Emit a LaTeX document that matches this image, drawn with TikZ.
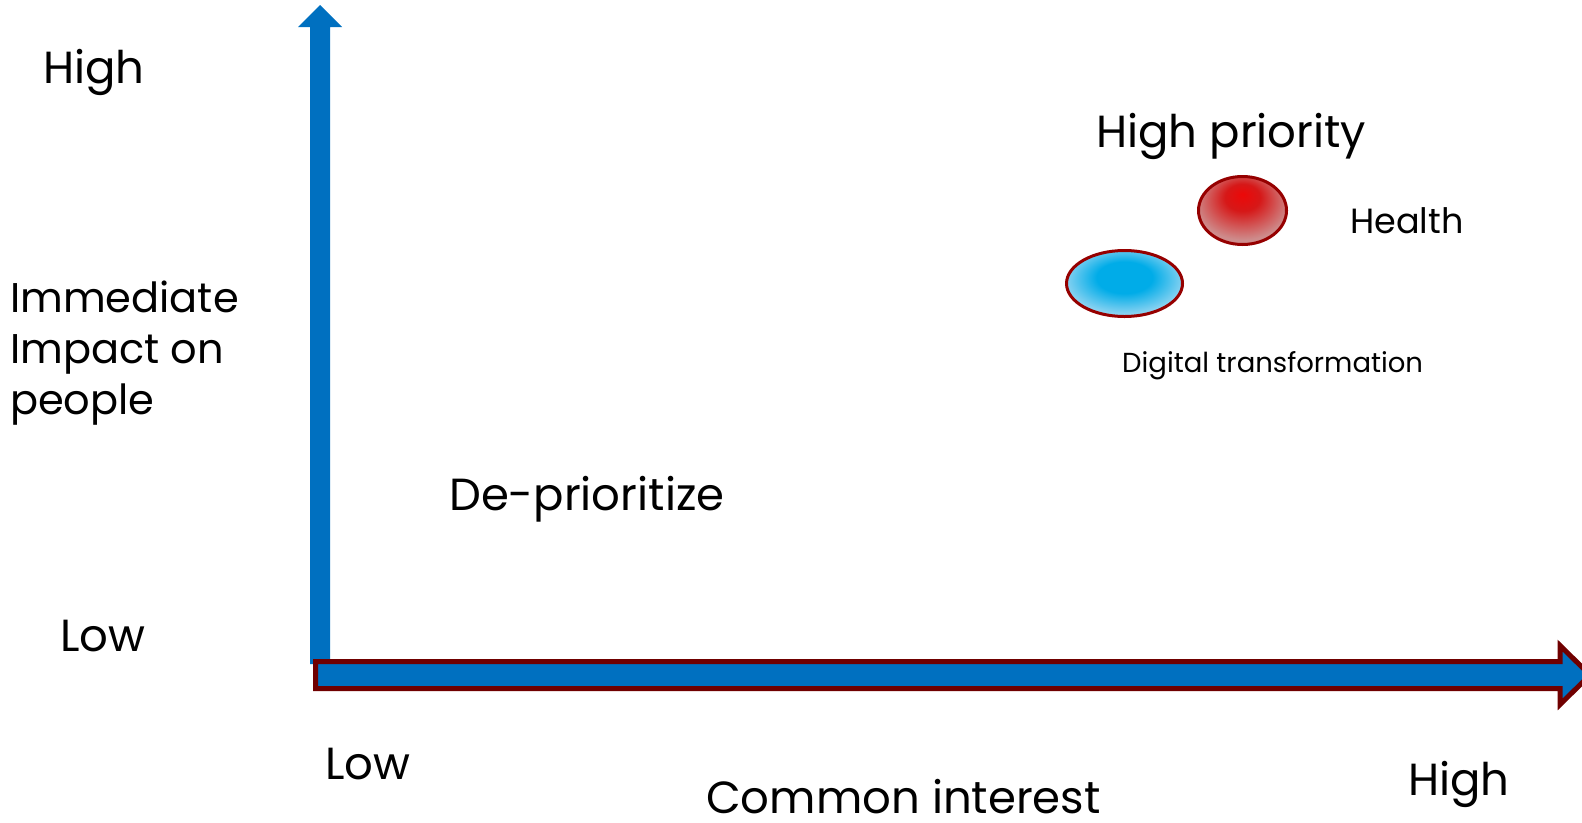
\documentclass[tikz,border=0pt]{standalone}
\usepackage{fontspec}
\setmainfont{Poppins}
\definecolor{axisblue}{RGB}{0,112,192}
\definecolor{axisred}{RGB}{112,0,0}
\definecolor{rimred}{RGB}{150,0,0}
\definecolor{bluecore}{RGB}{0,172,232}
\definecolor{blueedge}{RGB}{150,214,242}
\definecolor{redcore}{RGB}{236,8,8}
\definecolor{redmid}{RGB}{214,24,24}
\definecolor{rededge}{RGB}{206,140,140}
\pgfdeclareradialshading{blueblob}{\pgfpoint{0bp}{6bp}}{%
  color(0bp)=(bluecore); color(12bp)=(bluecore); color(27bp)=(blueedge); color(50bp)=(blueedge)}
\pgfdeclareradialshading{redblob}{\pgfpoint{0bp}{12bp}}{%
  color(0bp)=(redcore); color(10bp)=(redmid); color(27bp)=(rededge); color(50bp)=(rededge)}
\begin{document}
\begin{tikzpicture}[x=1pt,y=-1pt,
  lbl/.style={anchor=base west, inner sep=0pt, text=black},
  big/.style={lbl, font=\fontsize{45}{45}\selectfont},
  blob/.style={draw=rimred, line width=3pt}]
\useasboundingbox (0,0) rectangle (1582,822);
\clip (0,0) rectangle (1582,822);

% vertical axis: plain blue block arrow
\fill[axisblue] (310,664) -- (310,27) -- (298,27) -- (320,5) -- (342,27)
  -- (330,27) -- (330,664) -- cycle;

% horizontal axis: blue block arrow with dark red rim
\draw[draw=axisred, line width=5pt, fill=axisblue]
  (315.5,661.5) -- (1560,661.5) -- (1560,645.5) -- (1590,675)
  -- (1560,704.5) -- (1560,688.5) -- (315.5,688.5) -- cycle;

% topic bubbles
\path[blob, shading=blueblob] (1124.5,283.5) ellipse [x radius=58pt, y radius=33pt];
\path[blob, shading=redblob] (1242.5,210.5) ellipse [x radius=44pt, y radius=34pt];

% axis labels
\node[big] (yhigh) at (43,83) {High};
\node[big] (ylow) at (60,651) {Low};
\node[lbl, font=\fontsize{41.5}{51}\selectfont, align=left] (ytitle) at (10,414)
  {Immediate\\Impact on\\people};
\node[big] (xlow) at (325,779) {Low};
\node[big] (xhigh) at (1408,795) {High};
\node[big, text depth=0pt] (xtitle) at (706,813) {Common interest};

% quadrant labels
\node[big] (depri) at (449,510) {De-prioritize};
\node[big] (hipri) at (1096,147) {High priority};

% bubble labels
\node[lbl, font=\fontsize{35}{35}\selectfont] (health) at (1350,233) {Health};
\node[lbl, font=\fontsize{27.5}{27.5}\selectfont] (digital) at (1122,372) {Digital transformation};
\end{tikzpicture}
\end{document}
